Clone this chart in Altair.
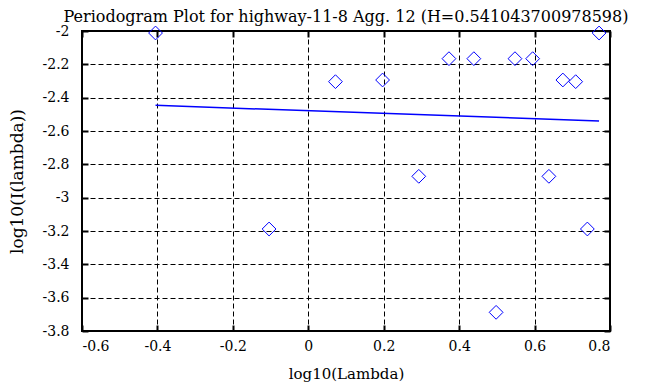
import altair as alt
import pandas as pd

log_lambda = [-0.405, -0.104, 0.072, 0.197, 0.293, 0.373, 0.439, 0.498,
              0.548, 0.595, 0.638, 0.675, 0.709, 0.740, 0.771]
log_I = [-2.012, -3.188, -2.304, -2.294, -2.872, -2.166, -2.166, -3.688,
         -2.166, -2.166, -2.872, -2.294, -2.304, -3.188, -2.012]
fit_x = [-0.405, 0.771]
fit_y = [-2.446, -2.540]

x_ticks = [-0.6, -0.4, -0.2, 0, 0.2, 0.4, 0.6, 0.8]
y_ticks = [-2, -2.2, -2.4, -2.6, -2.8, -3, -3.2, -3.4, -3.6, -3.8]

pts = pd.DataFrame({"x": log_lambda, "y": log_I})
fit = pd.DataFrame({"x": fit_x, "y": fit_y})

FONT = "DejaVu Serif"
xs = alt.Scale(domain=[-0.6, 0.8], nice=False, zero=False)
ys = alt.Scale(domain=[-3.8, -2], nice=False, zero=False)
LBL = "replace(format(datum.value, '~g'), '\u2212', '-')"

common = dict(domain=False, tickColor="black", tickWidth=2, tickSize=6,
              offset=-6, labelFont=FONT, labelFontSize=14, labelColor="black",
              titleFont=FONT, titleColor="black",
              titleFontWeight="normal", gridColor="black", gridDash=[5, 3],
              gridOpacity=1, gridWidth=1)

points = alt.Chart(pts).mark_point(
    shape="diamond", size=190, color="#0000ff", filled=False, strokeWidth=1, opacity=1
).encode(
    x=alt.X("x:Q", scale=xs, axis=alt.Axis(
        orient="bottom", values=x_ticks, title="log10(Lambda)", grid=True,
        titleFontSize=15, labelPadding=8, titlePadding=13, labelExpr=LBL, **common)),
    y=alt.Y("y:Q", scale=ys, axis=alt.Axis(
        orient="left", values=y_ticks, title="log10(I(lambda))", grid=True,
        titleFontSize=17, labelPadding=13, titlePadding=16, labelExpr=LBL, **common)),
)

line = alt.Chart(fit).mark_line(color="#0000ff", strokeWidth=1.5).encode(
    x=alt.X("x:Q", scale=xs, axis=alt.Axis(
        orient="top", values=x_ticks, title=None, labels=False, grid=False, **common)),
    y=alt.Y("y:Q", scale=ys, axis=alt.Axis(
        orient="right", values=y_ticks, title=None, labels=False, grid=False, **common)),
)

chart = alt.layer(points, line).resolve_axis(x="independent", y="independent").properties(
    width=528, height=300,
    title=alt.Title("Periodogram Plot for highway-11-8 Agg. 12 (H=0.541043700978598)",
                    font=FONT, fontSize=16, fontWeight="normal", color="black",
                    frame="group", offset=2, dy=3),
    autosize=alt.AutoSizeParams(type="none"),
    padding={"left": 74, "top": 23, "right": 50, "bottom": 56},
).configure_view(stroke="black", strokeWidth=2)

chart.save("out.html", embed_options={"renderer": "svg", "actions": False})
